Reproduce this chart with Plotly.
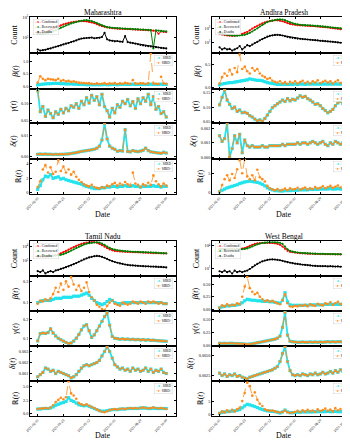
import plotly.graph_objects as go
import pandas as pd

# ---------------- data ----------------
dates = pd.date_range("2021-02-01", periods=51, freq="5D")
date_ticks = ["2021-02-01", "2021-03-23", "2021-05-12", "2021-07-01", "2021-08-20", "2021-10-09"]
state_names = ["Maharashtra", "Andhra Pradesh", "Tamil Nadu", "West Bengal"]
count_labels = ["Confirmed", "Recovered", "Deaths"]
model_labels = ["SIRD", "SIRD+"]
row_titles = ["Count", "<i>β</i>(<i>t</i>)", "<i>γ</i>(<i>t</i>)", "<i>δ</i>(<i>t</i>)", "ℝ(<i>t</i>)"]
x_title = "Date"

# Maharashtra
mh_confirmed = [3800, 3100, 3000, 3500, 4500, 6500, 8500, 11000, 14000, 17000,
                21000, 25000, 29000, 33000, 37000, 40000, 43000, 44000, 43000, 41000,
                37000, 33000, 28000, 22000, 17000, 14000, 12000, 10500, 9500, 8800,
                8200, 7900, 7700, 7600, 7500, 7300, 7000, 6700, 6500, 6300,
                6100, 5900, 5700, 5500, 5300, 5000, 4700, 2500, 4200, 3900, 3700]
mh_recovered = [2600, 2500, 2600, 2800, 3000, 3500, 4200, 5500, 7500, 10000,
                13000, 17000, 21000, 26000, 31000, 36000, 42000, 48000, 52000, 54000,
                50000, 44000, 36000, 28000, 21000, 16500, 13500, 11500, 10500, 9800,
                9200, 8800, 8500, 8200, 8000, 7800, 7500, 7200, 7000, 6800,
                6600, 6400, 6200, 6000, 5800, 90, 5400, 5000, 4700, 4400, 4200]
mh_deaths = [70, 55, 60, 65, 80, 90, 110, 130, 150, 180,
             220, 260, 300, 380, 450, 550, 700, 850, 900, 950,
             1000, 1050, 900, 950, 1000, 1200, 3000, 700, 550, 500,
             450, 480, 420, 400, 1500, 380, 330, 300, 260, 230,
             200, 180, 160, 150, 140, 130, 120, 110, 100, 95, 90]
mh_beta_sird = [0.06, 0.08, 0.09, 0.10, 0.11, 0.11, 0.12, 0.12, 0.12, 0.11,
                0.11, 0.10, 0.10, 0.10, 0.09, 0.09, 0.08, 0.08, 0.08, 0.07,
                0.07, 0.07, 0.07, 0.07, 0.07, 0.07, 0.08, 0.07, 0.07, 0.08,
                0.08, 0.07, 0.08, 0.08, 0.08, 0.08, 0.08, 0.09, 0.08, 0.08,
                0.08, 0.08, 0.08, 0.08, 0.09, 0.08, 0.08, 0.08, 0.09, 0.08, 0.08]
mh_beta_sirdp = [0.15, 0.40, 0.30, 0.25, 0.30, 0.28, 0.27, 0.25, 0.30, 0.22,
                 0.25, 0.20, 0.22, 0.18, 0.20, 0.17, 0.15, 0.14, 0.13, 0.12,
                 0.13, 0.11, 0.10, 0.12, 0.10, 0.11, 0.13, 0.10, 0.12, 0.11,
                 0.13, 0.10, 0.12, 0.11, 0.14, 0.12, 0.11, 0.25, 0.12, 0.11,
                 0.13, 0.12, 0.10, 0.13, 1.30, 0.12, 0.11, 0.10, 0.38, 0.12, 0.11]
mh_gamma = [0.135, 0.075, 0.090, 0.062, 0.080, 0.070, 0.058, 0.075, 0.068, 0.082,
            0.072, 0.085, 0.078, 0.092, 0.088, 0.098, 0.085, 0.105, 0.095, 0.115,
            0.100, 0.122, 0.108, 0.118, 0.095, 0.125, 0.090, 0.078, 0.060, 0.085,
            0.072, 0.095, 0.088, 0.105, 0.098, 0.110, 0.092, 0.104, 0.085, 0.112,
            0.098, 0.115, 0.105, 0.125, 0.095, 0.118, 0.082, 0.090, 0.070, 0.075, 0.060]
mh_delta = [0.0010, 0.0011, 0.0010, 0.0011, 0.0010, 0.0010, 0.0009, 0.0010, 0.0009, 0.0010,
            0.0010, 0.0011, 0.0012, 0.0014, 0.0016, 0.0018, 0.0021, 0.0024, 0.0026, 0.0028,
            0.0030, 0.0032, 0.0035, 0.0040, 0.0050, 0.0080, 0.0160, 0.0085, 0.0050, 0.0040,
            0.0035, 0.0025, 0.0028, 0.0026, 0.0130, 0.0024, 0.0022, 0.0028, 0.0025, 0.0023,
            0.0026, 0.0030, 0.0040, 0.0028, 0.0022, 0.0020, 0.0018, 0.0016, 0.0015, 0.0020, 0.0016]
mh_r_sird = [0.5, 1.0, 1.8, 2.3, 2.2, 2.5, 2.0, 2.1, 2.2, 1.9,
             2.0, 1.8, 1.7, 1.6, 1.5, 1.4, 1.3, 1.2, 1.0, 0.9,
             0.8, 0.7, 0.6, 0.6, 0.6, 0.7, 0.7, 0.8, 0.8, 0.9,
             0.9, 0.8, 0.9, 0.9, 1.0, 0.9, 0.9, 1.0, 0.9, 0.9,
             0.8, 0.9, 0.9, 0.9, 0.9, 1.0, 0.9, 0.9, 0.8, 0.9, 0.9]
mh_r_sirdp = [0.8, 1.6, 3.2, 3.8, 2.8, 3.5, 2.6, 2.9, 4.5, 3.0,
              3.6, 2.8, 3.2, 2.5, 2.9, 2.2, 1.8, 1.5, 1.2, 1.0,
              0.9, 1.1, 0.8, 0.7, 0.6, 0.8, 0.7, 1.0, 0.9, 1.2,
              1.4, 1.0, 1.3, 1.1, 1.5, 1.2, 1.0, 2.8, 1.3, 1.1,
              0.8, 1.2, 1.0, 1.4, 1.1, 2.4, 1.6, 1.2, 0.9, 1.3, 1.0]

# Andhra Pradesh
ap_confirmed = [150, 130, 110, 95, 90, 85, 90, 100, 120, 160,
                220, 300, 500, 900, 1500, 2300, 3400, 5000, 7000, 9000,
                10500, 12000, 14000, 13500, 12000, 10000, 7500, 5500, 4200, 3500,
                3100, 2800, 2600, 2500, 2400, 2300, 2200, 2100, 2000, 1800,
                1700, 1550, 1400, 1300, 1150, 1050, 950, 850, 760, 700, 640]
ap_recovered = [200, 170, 140, 120, 105, 95, 90, 90, 95, 105,
                120, 160, 220, 350, 600, 1000, 1800, 3000, 5000, 7500,
                10000, 12500, 15000, 17000, 18000, 17000, 14000, 10000, 7000, 5200,
                4200, 3600, 3200, 2900, 2800, 2700, 2600, 2450, 2300, 2150,
                2000, 1850, 1700, 1550, 1400, 1300, 1200, 1100, 1000, 950, 900]
ap_deaths = [2, 1, 1.5, 1, 1.2, 0.7, 1, 1.5, 3, 1,
             2, 4, 3, 5, 8, 12, 20, 30, 45, 65,
             85, 100, 115, 118, 110, 95, 75, 60, 50, 45,
             40, 35, 32, 30, 28, 26, 24, 22, 21, 19,
             17, 16, 15, 14, 13, 12, 11, 10, 9, 9, 8]
ap_beta_sird = [0.05, 0.07, 0.08, 0.09, 0.10, 0.10, 0.11, 0.12, 0.13, 0.14,
                0.15, 0.16, 0.18, 0.17, 0.16, 0.15, 0.15, 0.14, 0.12, 0.10,
                0.09, 0.08, 0.07, 0.06, 0.06, 0.06, 0.06, 0.06, 0.06, 0.06,
                0.07, 0.06, 0.07, 0.07, 0.06, 0.07, 0.07, 0.07, 0.07, 0.07,
                0.07, 0.07, 0.07, 0.07, 0.07, 0.07, 0.07, 0.07, 0.07, 0.07, 0.06]
ap_beta_sirdp = [0.08, 0.22, 0.30, 0.25, 0.38, 0.28, 0.42, 0.33, 0.72, 0.40,
                 0.45, 0.35, 0.30, 0.42, 0.36, 0.40, 0.30, 0.25, 0.22, 0.18,
                 0.20, 0.14, 0.12, 0.10, 0.13, 0.08, 0.11, 0.07, 0.12, 0.09,
                 0.13, 0.08, 0.11, 0.14, 0.09, 0.12, 0.08, 0.13, 0.10, 0.15,
                 0.09, 0.12, 0.14, 0.10, 0.13, 0.08, 0.12, 0.15, 0.09, 0.11, 0.08]
ap_gamma = [0.108, 0.135, 0.160, 0.125, 0.110, 0.095, 0.100, 0.085, 0.090, 0.080,
            0.082, 0.078, 0.070, 0.065, 0.058, 0.052, 0.055, 0.050, 0.060, 0.072,
            0.085, 0.098, 0.105, 0.112, 0.118, 0.125, 0.120, 0.130, 0.122, 0.128,
            0.125, 0.132, 0.140, 0.135, 0.138, 0.130, 0.125, 0.118, 0.110, 0.112,
            0.105, 0.095, 0.088, 0.080, 0.085, 0.092, 0.105, 0.115, 0.120, 0.112, 0.108]
ap_delta = [0.0015, 0.0011, 0.0013, 0.0024, 0.0000, 0.0006, 0.0015, 0.0010, 0.0016, 0.0003,
            0.0012, 0.0008, 0.0007, 0.0008, 0.0007, 0.0007, 0.0007, 0.0008, 0.0007, 0.0007,
            0.0008, 0.0008, 0.0008, 0.0008, 0.0008, 0.0009, 0.0008, 0.0009, 0.0009, 0.0009,
            0.0009, 0.0010, 0.0009, 0.0010, 0.0010, 0.0009, 0.0010, 0.0011, 0.0010, 0.0009,
            0.0010, 0.0011, 0.0009, 0.0008, 0.0010, 0.0009, 0.0011, 0.0010, 0.0009, 0.0010, 0.0009]
ap_r_sird = [0.3, 0.7, 1.0, 1.3, 1.5, 1.7, 1.9, 2.1, 2.4, 2.6,
             2.8, 2.9, 3.0, 2.9, 2.8, 2.7, 2.5, 2.2, 1.8, 1.3,
             1.0, 0.8, 0.6, 0.6, 0.5, 0.5, 0.6, 0.6, 0.6, 0.7,
             0.7, 0.7, 0.8, 0.8, 0.8, 0.8, 0.9, 0.9, 0.9, 0.9,
             1.0, 1.0, 1.0, 1.0, 1.1, 1.0, 1.0, 1.1, 1.0, 1.0, 0.9]
ap_r_sirdp = [0.3, 2.0, 3.5, 4.5, 3.2, 4.8, 3.8, 6.0, 8.3, 5.0,
              8.5, 4.2, 3.5, 4.5, 3.2, 5.9, 4.0, 3.5, 2.9, 1.8,
              1.2, 0.9, 0.7, 1.0, 0.6, 0.8, 1.1, 0.7, 1.2, 0.9,
              1.0, 1.3, 0.8, 1.1, 1.4, 0.9, 1.2, 1.0, 1.5, 1.1,
              1.3, 1.7, 1.2, 1.5, 1.8, 1.3, 1.6, 1.9, 1.4, 1.7, 1.5]

# Tamil Nadu
tn_confirmed = [380, 370, 360, 370, 400, 450, 500, 600, 750, 1000,
                1500, 2200, 3200, 4800, 7000, 10500, 15000, 19000, 24000, 28000,
                32000, 35000, 34000, 28000, 20000, 13000, 8000, 5000, 3500, 2600,
                2200, 2000, 1850, 1750, 1650, 1600, 1550, 1500, 1450, 1400,
                1350, 1300, 1250, 1200, 1150, 1100, 1080, 1050, 1020, 1000, 980]
tn_recovered = [480, 460, 440, 430, 430, 440, 460, 500, 560, 650,
                800, 1100, 1600, 2400, 3600, 5500, 8500, 12000, 17000, 21000,
                24000, 27000, 30000, 32000, 30000, 22000, 14000, 8500, 5500, 4000,
                3200, 2700, 2400, 2150, 2000, 1900, 1800, 1700, 1650, 1600,
                1550, 1500, 1450, 1400, 1350, 1300, 1250, 1200, 1150, 1100, 1050]
tn_deaths = [4, 3, 5, 2, 3, 4, 3, 5, 6, 8,
             10, 14, 18, 25, 35, 50, 75, 110, 160, 220,
             290, 350, 420, 460, 420, 350, 260, 180, 120, 90,
             70, 55, 45, 38, 32, 28, 25, 24, 22, 21,
             20, 19, 18, 18, 17, 17, 16, 15, 15, 14, 13]
tn_beta_sird = [0.10, 0.11, 0.12, 0.12, 0.12, 0.12, 0.13, 0.14, 0.14, 0.14,
                0.15, 0.15, 0.15, 0.15, 0.16, 0.16, 0.16, 0.17, 0.18, 0.19,
                0.17, 0.14, 0.12, 0.10, 0.09, 0.08, 0.09, 0.11, 0.13, 0.12,
                0.10, 0.09, 0.09, 0.09, 0.10, 0.10, 0.10, 0.10, 0.10, 0.10,
                0.10, 0.10, 0.10, 0.10, 0.10, 0.10, 0.10, 0.10, 0.10, 0.09, 0.09]
tn_beta_sirdp = [0.09, 0.12, 0.11, 0.13, 0.12, 0.14, 0.18, 0.24, 0.20, 0.28,
                 0.22, 0.30, 0.25, 0.34, 0.27, 0.22, 0.26, 0.21, 0.24, 0.29,
                 0.20, 0.15, 0.12, 0.08, 0.06, 0.04, 0.03, 0.07, 0.10, 0.12,
                 0.09, 0.08, 0.07, 0.10, 0.09, 0.08, 0.09, 0.11, 0.10, 0.09,
                 0.11, 0.10, 0.09, 0.11, 0.10, 0.11, 0.10, 0.09, 0.10, 0.09, 0.09]
tn_gamma = [0.086, 0.125, 0.128, 0.126, 0.130, 0.150, 0.128, 0.112, 0.100, 0.092,
            0.085, 0.078, 0.072, 0.075, 0.085, 0.100, 0.120, 0.145, 0.165, 0.172,
            0.140, 0.105, 0.118, 0.140, 0.165, 0.190, 0.215, 0.235, 0.170, 0.110,
            0.100, 0.098, 0.095, 0.097, 0.094, 0.096, 0.093, 0.095, 0.092, 0.094,
            0.091, 0.093, 0.090, 0.092, 0.089, 0.090, 0.088, 0.087, 0.086, 0.085, 0.084]
tn_delta = [0.0007, 0.0009, 0.0011, 0.0015, 0.0014, 0.0012, 0.0013, 0.0010, 0.0012, 0.0011,
            0.0010, 0.0009, 0.0008, 0.0006, 0.0007, 0.0009, 0.0012, 0.0015, 0.0017, 0.0018,
            0.0017, 0.0018, 0.0019, 0.0020, 0.0022, 0.0026, 0.0030, 0.0034, 0.0030, 0.0024,
            0.0018, 0.0016, 0.0014, 0.0015, 0.0013, 0.0014, 0.0012, 0.0015, 0.0013, 0.0014,
            0.0012, 0.0013, 0.0015, 0.0012, 0.0014, 0.0011, 0.0013, 0.0012, 0.0014, 0.0011, 0.0010]
tn_r_sird = [0.9, 0.9, 1.0, 1.0, 1.0, 1.1, 1.3, 1.6, 1.8, 2.0,
             2.1, 2.3, 3.0, 2.5, 2.3, 2.0, 1.7, 1.6, 1.5, 1.6,
             1.4, 1.2, 1.0, 0.8, 0.6, 0.5, 0.5, 0.6, 0.7, 0.8,
             0.8, 0.8, 0.9, 0.9, 0.9, 1.0, 1.0, 1.0, 1.0, 1.0,
             1.1, 1.1, 1.1, 1.0, 1.0, 1.1, 1.0, 1.0, 1.0, 1.0, 1.0]
tn_r_sirdp = [0.9, 1.0, 1.0, 1.1, 1.0, 1.2, 1.6, 2.2, 2.6, 3.0,
              2.7, 3.1, 6.0, 3.8, 3.4, 2.8, 2.0, 1.8, 1.6, 1.8,
              1.5, 1.3, 1.1, 0.8, 0.6, 0.4, 0.3, 0.5, 0.7, 0.8,
              0.9, 0.8, 0.9, 1.0, 0.9, 1.0, 1.1, 1.0, 1.1, 1.0,
              1.1, 1.2, 1.1, 1.0, 1.1, 1.2, 1.1, 1.0, 1.1, 1.0, 0.9]

# West Bengal
wb_confirmed = [4000, 3800, 3600, 3500, 3400, 3400, 3500, 3600, 3800, 4200,
                5000, 7000, 10000, 14000, 18000, 21000, 23000, 24500, 25000, 25500,
                25000, 24000, 22000, 19000, 14000, 8000, 4000, 2200, 1600, 1400,
                1250, 1150, 1050, 1000, 950, 900, 880, 860, 840, 820,
                800, 790, 780, 770, 760, 750, 740, 730, 720, 710, 700]
wb_recovered = [3500, 3400, 3300, 3300, 3200, 3200, 3200, 3300, 3400, 3500,
                3800, 4500, 6000, 8500, 12000, 16000, 20000, 24000, 27000, 29000,
                30000, 30500, 30000, 29000, 26000, 18000, 8000, 3500, 2200, 1700,
                1450, 1300, 1200, 1100, 1050, 1000, 960, 930, 900, 880,
                860, 840, 820, 810, 800, 790, 780, 770, 760, 750, 740]
wb_deaths = [4, 3, 5, 3, 4, 2, 5, 3, 4, 3,
             4, 5, 8, 14, 25, 40, 60, 85, 110, 135,
             150, 155, 150, 140, 120, 100, 80, 65, 55, 48,
             42, 38, 34, 30, 28, 26, 24, 22, 21, 20,
             20, 19, 20, 18, 19, 18, 17, 18, 16, 17, 16]
wb_beta_sird = [0.03, 0.05, 0.06, 0.07, 0.07, 0.08, 0.08, 0.09, 0.10, 0.13,
                0.17, 0.20, 0.19, 0.18, 0.18, 0.17, 0.17, 0.16, 0.16, 0.16,
                0.15, 0.15, 0.14, 0.13, 0.12, 0.18, 0.33, 0.15, 0.09, 0.08,
                0.08, 0.08, 0.08, 0.08, 0.08, 0.08, 0.09, 0.09, 0.09, 0.09,
                0.09, 0.09, 0.10, 0.10, 0.10, 0.10, 0.10, 0.10, 0.10, 0.10, 0.10]
wb_beta_sirdp = [0.03, 0.08, 0.06, 0.10, 0.07, 0.09, 0.08, 0.12, 0.10, 0.25,
                 0.45, 0.64, 0.42, 0.35, 0.30, 0.33, 0.25, 0.20, 0.16, 0.18,
                 0.15, 0.17, 0.14, 0.12, 0.10, 0.18, 0.30, 0.12, 0.06, 0.05,
                 0.07, 0.06, 0.08, 0.07, 0.09, 0.06, 0.10, 0.08, 0.07, 0.11,
                 0.09, 0.08, 0.12, 0.10, 0.14, 0.09, 0.12, 0.15, 0.10, 0.13, 0.11]
wb_gamma = [0.040, 0.035, 0.040, 0.035, 0.040, 0.040, 0.035, 0.035, 0.030, 0.030,
            0.025, 0.020, 0.025, 0.030, 0.040, 0.050, 0.060, 0.070, 0.080, 0.090,
            0.100, 0.110, 0.120, 0.140, 0.180, 0.350, 0.640, 0.200, 0.080, 0.070,
            0.065, 0.060, 0.060, 0.065, 0.060, 0.060, 0.065, 0.060, 0.065, 0.060,
            0.065, 0.060, 0.065, 0.070, 0.065, 0.070, 0.065, 0.070, 0.070, 0.065, 0.070]
wb_delta = [0.0028, 0.0025, 0.0027, 0.0024, 0.0026, 0.0025, 0.0027, 0.0024, 0.0025, 0.0023,
            0.0022, 0.0021, 0.0023, 0.0024, 0.0025, 0.0026, 0.0027, 0.0028, 0.0029, 0.0030,
            0.0031, 0.0032, 0.0034, 0.0036, 0.0042, 0.0052, 0.0060, 0.0042, 0.0031, 0.0026,
            0.0025, 0.0026, 0.0025, 0.0027, 0.0026, 0.0025, 0.0027, 0.0026, 0.0028, 0.0026,
            0.0027, 0.0029, 0.0027, 0.0028, 0.0030, 0.0028, 0.0031, 0.0029, 0.0032, 0.0030, 0.0029]
wb_r_sird = [0.5, 0.8, 1.0, 1.1, 1.2, 1.3, 1.4, 1.6, 1.9, 2.5,
             3.2, 3.8, 3.6, 3.3, 3.0, 2.6, 2.2, 1.9, 1.6, 1.4,
             1.3, 1.2, 1.1, 0.9, 0.6, 1.0, 1.7, 1.0, 0.7, 0.7,
             0.8, 0.9, 0.9, 1.0, 1.0, 1.0, 1.0, 1.0, 1.1, 1.1,
             1.1, 1.1, 1.1, 1.2, 1.1, 1.1, 1.2, 1.1, 1.1, 1.1, 1.1]
wb_r_sirdp = [0.5, 1.2, 0.8, 1.6, 1.0, 1.8, 1.2, 2.0, 2.5, 5.0,
              8.0, 11.8, 10.5, 7.0, 8.2, 5.5, 4.0, 3.2, 2.0, 1.6,
              1.4, 1.5, 1.2, 1.0, 0.8, 1.0, 1.5, 0.9, 0.6, 0.8,
              1.0, 1.4, 0.9, 1.6, 1.1, 1.8, 1.2, 1.5, 1.0, 2.0,
              1.3, 1.7, 2.2, 1.4, 1.9, 1.2, 2.4, 1.6, 2.1, 1.3, 1.8]

# tick values per state / row
mh_ticks = [[1e3, 1e5], [0.0, 0.5, 1.0], [0.05, 0.10], [0.00, 0.01], [0, 2, 4]]
mh_ticktext = [["10<sup>3</sup>", "10<sup>5</sup>"], ["0.0", "0.5", "1.0"], ["0.05", "0.10"], ["0.00", "0.01"], ["0", "2", "4"]]
ap_ticks = [[10, 1e3], [0.0, 0.5], [0.05, 0.10, 0.15], [0.000, 0.001, 0.002], [0, 5]]
ap_ticktext = [["10<sup>1</sup>", "10<sup>3</sup>"], ["0.0", "0.5"], ["0.05", "0.10", "0.15"], ["0.000", "0.001", "0.002"], ["0", "5"]]
tn_ticks = [[1e2, 1e4], [0.1, 0.3], [0.1, 0.2], [0.001, 0.002, 0.003], [0.0, 2.5, 5.0]]
tn_ticktext = [["10<sup>2</sup>", "10<sup>4</sup>"], ["0.1", "0.3"], ["0.1", "0.2"], ["0.001", "0.002", "0.003"], ["0.0", "2.5", "5.0"]]
wb_ticks = [[10, 1e4], [0.0, 0.25, 0.5], [0.0, 0.25, 0.5], [0.0025, 0.0050], [0, 5]]
wb_ticktext = [["10<sup>1</sup>", "10<sup>4</sup>"], ["0.00", "0.25", "0.50"], ["0.00", "0.25", "0.50"], ["0.0025", "0.0050"], ["0", "5"]]

# ---------------- assemble ----------------
states = [
    dict(name=state_names[0], counts=[mh_confirmed, mh_recovered, mh_deaths],
         params=[(mh_beta_sird, mh_beta_sirdp), (mh_gamma, mh_gamma), (mh_delta, mh_delta), (mh_r_sird, mh_r_sirdp)],
         ticks=mh_ticks, ticktext=mh_ticktext,
         ranges=[[1.5, 5.05], [-0.1, 1.32], [0.043, 0.14], [-0.0013, 0.0163], [-0.14, 4.64]]),
    dict(name=state_names[1], counts=[ap_confirmed, ap_recovered, ap_deaths],
         params=[(ap_beta_sird, ap_beta_sirdp), (ap_gamma, ap_gamma), (ap_delta, ap_delta), (ap_r_sird, ap_r_sirdp)],
         ticks=ap_ticks, ticktext=ap_ticktext,
         ranges=[[-0.5, 4.6], [-0.04, 0.75], [0.044, 0.164], [-0.00014, 0.0024], [-0.25, 8.6]]),
    dict(name=state_names[2], counts=[tn_confirmed, tn_recovered, tn_deaths],
         params=[(tn_beta_sird, tn_beta_sirdp), (tn_gamma, tn_gamma), (tn_delta, tn_delta), (tn_r_sird, tn_r_sirdp)],
         ticks=tn_ticks, ticktext=tn_ticktext,
         ranges=[[-0.05, 4.68], [0.021, 0.35], [0.059, 0.245], [0.00032, 0.0035], [-0.39, 6.1]]),
    dict(name=state_names[3], counts=[wb_confirmed, wb_recovered, wb_deaths],
         params=[(wb_beta_sird, wb_beta_sirdp), (wb_gamma, wb_gamma), (wb_delta, wb_delta), (wb_r_sird, wb_r_sirdp)],
         ticks=wb_ticks, ticktext=wb_ticktext,
         ranges=[[-0.03, 4.65], [-0.032, 0.66], [-0.013, 0.67], [0.00184, 0.0061], [-0.5, 12.4]]),
]

for st in states:
    for arr in st["counts"]:
        assert len(arr) == len(dates), (st["name"], len(arr))
    for a, b in st["params"]:
        assert len(a) == len(dates) and len(b) == len(dates), (st["name"], len(a), len(b))

W, H = 350, 440
def fx(p):
    return p / W
def fy(p):
    return 1 - p / H

panel_cols = [(22, 168), (204, 347)]
panel_rows = [[9, 45, 81, 115, 151, 186], [233, 268, 303, 338, 373, 408]]
date_title_y = [206, 427]
positions = [(0, 0), (0, 1), (1, 0), (1, 1)]

FONT = "Liberation Serif"
count_colors = ["#ff0000", "#008000", "#000000"]
C_SIRD, C_SIRDP = "#22e4ef", "#ff8c1a"

axis_common = dict(showline=True, linecolor="black", linewidth=0.8, mirror="ticks",
                   ticks="inside", ticklen=2, tickwidth=0.6, tickcolor="black",
                   showgrid=False, zeroline=False, automargin=False,
                   tickfont=dict(size=4.2, family=FONT, color="black"))

fig = go.Figure()
layout = {}
annotations = []

for s, st in enumerate(states):
    pr, pc = positions[s]
    x0, x1 = panel_cols[pc]
    rows = panel_rows[pr]
    for r in range(5):
        k = s * 5 + r + 1
        xa = "x" if k == 1 else f"x{k}"
        ya = "y" if k == 1 else f"y{k}"
        xkey = "xaxis" if k == 1 else f"xaxis{k}"
        ykey = "yaxis" if k == 1 else f"yaxis{k}"
        xcfg = dict(domain=[fx(x0), fx(x1)], anchor=ya, type="date",
                    range=["2021-01-17", "2021-10-28"],
                    tickmode="array", tickvals=date_ticks, **axis_common)
        if r == 4:
            xcfg["ticktext"] = date_ticks
            xcfg["tickangle"] = -45
            xcfg["tickfont"] = dict(size=3.5, family=FONT, color="black")
        else:
            xcfg["showticklabels"] = False
        layout[xkey] = xcfg
        ycfg = dict(domain=[fy(rows[r + 1]), fy(rows[r])], anchor=xa,
                    range=st["ranges"][r], tickmode="array",
                    tickvals=st["ticks"][r], ticktext=st["ticktext"][r],
                    title=dict(text=row_titles[r], font=dict(size=8, family=FONT, color="black"), standoff=3),
                    **axis_common)
        if r == 0:
            ycfg["type"] = "log"
        layout[ykey] = ycfg

        if r == 0:
            for name, arr, col in zip(count_labels, st["counts"], count_colors):
                fig.add_trace(go.Scatter(x=dates, y=arr, name=name, mode="lines+markers",
                                         line=dict(color=col, width=1),
                                         marker=dict(color=col, size=2.2),
                                         xaxis=xa, yaxis=ya, showlegend=False))
            leg = "<br>".join(f"<span style='color:{c}'>–●–</span> {n}" for n, c in zip(count_labels, count_colors))
            annotations.append(dict(x=fx(x0 + 3), y=fy(rows[0] + 1.5), xref="paper", yref="paper",
                                    xanchor="left", yanchor="top", align="left", showarrow=False,
                                    text=leg, font=dict(size=3.6, family=FONT, color="black"),
                                    bgcolor="rgba(255,255,255,0.85)", bordercolor="#cccccc",
                                    borderwidth=0.4, borderpad=0.8))
        else:
            a, b = st["params"][r - 1]
            fig.add_trace(go.Scatter(x=dates, y=a, name=model_labels[0], mode="lines+markers",
                                     line=dict(color=C_SIRD, width=1.8),
                                     marker=dict(color=C_SIRD, size=3.2, symbol="square"),
                                     xaxis=xa, yaxis=ya, showlegend=False))
            fig.add_trace(go.Scatter(x=dates, y=b, name=model_labels[1], mode="lines+markers",
                                     line=dict(color=C_SIRDP, width=0.8, dash="dash"),
                                     marker=dict(color=C_SIRDP, size=2.6),
                                     xaxis=xa, yaxis=ya, showlegend=False))
            leg = (f"<span style='color:{C_SIRD}'>–●–</span> {model_labels[0]}<br>"
                   f"<span style='color:{C_SIRDP}'>-●-</span> {model_labels[1]}")
            annotations.append(dict(x=fx(x1 - 3), y=fy(rows[r] + 1.5), xref="paper", yref="paper",
                                    xanchor="right", yanchor="top", align="left", showarrow=False,
                                    text=leg, font=dict(size=3.6, family=FONT, color="black"),
                                    bgcolor="rgba(255,255,255,0.85)", bordercolor="#cccccc",
                                    borderwidth=0.4, borderpad=0.8))
    # panel title
    annotations.append(dict(x=fx((x0 + x1) / 2), y=fy(rows[0] - 4.5), xref="paper", yref="paper",
                            xanchor="center", yanchor="middle", showarrow=False,
                            text=st["name"], font=dict(size=7.5, family=FONT, color="black")))
    # x-axis title
    annotations.append(dict(x=fx((x0 + x1) / 2), y=fy(date_title_y[pr]), xref="paper", yref="paper",
                            xanchor="center", yanchor="middle", showarrow=False,
                            text=x_title, font=dict(size=8, family=FONT, color="black")))

fig.update_layout(**layout)
fig.update_layout(width=W, height=H, margin=dict(l=0, r=0, t=0, b=0),
                  paper_bgcolor="white", plot_bgcolor="white",
                  annotations=annotations, showlegend=False,
                  font=dict(family=FONT, color="black"))
fig.write_html("out.html")
